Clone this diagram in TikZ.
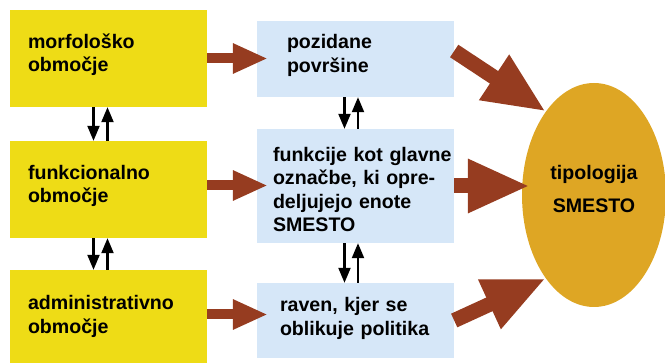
\documentclass[tikz,border=0pt]{standalone}
\usepackage{fontspec}
\setmainfont{Liberation Sans}
\usepackage{xcolor}
\usetikzlibrary{arrows.meta,shapes.geometric}
\definecolor{rumena}{RGB}{238,220,22}
\definecolor{modra}{RGB}{214,231,248}
\definecolor{rjava}{RGB}{150,60,32}
\definecolor{zlata}{RGB}{222,166,36}
\tikzset{
  napis/.style={font=\bfseries\fontsize{19.6}{23.5}\selectfont},
  polje/.style={napis,inner sep=0pt,text width=197pt,minimum height=#1,align=left},
  zamik/.style={execute at begin node={\leftskip=#1\relax}},
  puscica/.style={draw=rjava,line width=10pt,-{Triangle[width=28pt,length=35pt]}},
  velika/.style={draw=rjava,line width=15pt,-{Triangle[width=50pt,length=62pt]}},
  crna/.style={line width=2.2pt,-{Triangle[width=12pt,length=15pt]}}
}
\begin{document}
\begin{tikzpicture}[x=1pt,y=-1pt]
      \useasboundingbox(0,0)rectangle(665,363);
      \node[polje=97pt,zamik=18pt,text depth=35pt,fill=rumena](y1)at(108.5,58.5){morfološko\\območje};
      \node[polje=97pt,zamik=18pt,text depth=35pt,fill=rumena](y2)at(108.5,189.5){funkcionalno\\območje};
      \node[polje=93pt,zamik=18pt,fill=rumena](y3)at(108.5,316.5){administrativno\\območje};
      \node[polje=76pt,zamik=30pt,text depth=35pt,fill=modra](b1)at(355.5,59){pozidane\\površine};
      \node[polje=114pt,zamik=16pt,text depth=63.5pt,fill=modra](b2)at(355.5,186){funkcije kot glavne\\označbe, ki opre-\\deljujejo enote\\SMESTO};
      \node[polje=75pt,zamik=23pt,text depth=32pt,fill=modra](b3)at(355.5,320.5){raven, kjer se\\oblikuje politika};
      \node[napis,ellipse,fill=zlata,inner sep=0pt,minimum width=144pt,minimum height=224pt,align=center](el)at(594,195)
        {tipologija\\[10pt]SMESTO\rule[-12pt]{0pt}{12pt}};
      \draw[puscica,shorten >=-11pt](y1.east)--(y1.east -| b1.west);%levo
      \draw[puscica,shorten >=-11pt]([yshift=4pt]y2.east)--([yshift=4pt]y2.east -| b2.west);
      \draw[puscica,shorten >=-11pt]([yshift=2pt]y3.east)--([yshift=2pt]y3.east -| b3.west);
      \draw[crna]([xshift=-15pt]y1.south)--([xshift=-15pt]y2.north);%gor/dol
      \draw[crna]([xshift=-1pt]y2.north)--([xshift=-1pt]y1.south);
      \draw[crna]([xshift=-15pt]y2.south)--([xshift=-15pt]y3.north);
      \draw[crna]([xshift=-1pt]y3.north)--([xshift=-1pt]y2.south);
      \draw[crna]([xshift=-11pt]b1.south)--([xshift=-11pt]b2.north);
      \draw[crna]([xshift=2.5pt]b2.north)--([xshift=2.5pt]b1.south);
      \draw[crna]([xshift=-11pt]b2.south)--([xshift=-11pt]b3.north);
      \draw[crna]([xshift=2.5pt]b3.north)--([xshift=2.5pt]b2.south);
      \draw[velika]([yshift=8pt]b1.east)--(el.120);%desno
      \draw[velika,shorten >=-8pt](b2.east)--(b2.east -| el.west);
      \draw[velika](b3.east)--(el.240);
    \end{tikzpicture}
\end{document}
